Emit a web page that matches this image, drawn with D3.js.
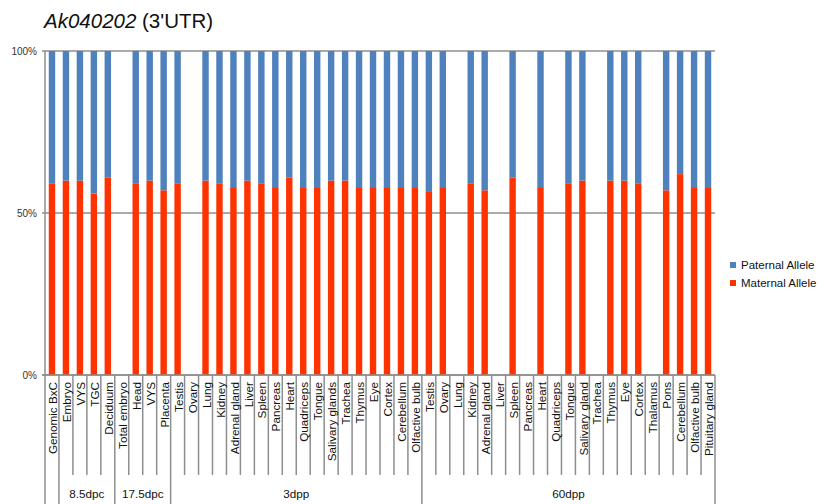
<!DOCTYPE html>
<html>
<head>
<meta charset="utf-8">
<script src="https://cdn.jsdelivr.net/npm/d3@7"></script>
<style>
  html, body { margin: 0; padding: 0; background: #fff; }
  svg { display: block; font-family: "Liberation Sans", Arial, Helvetica, sans-serif; }
</style>
</head>
<body>
<svg id="chart" width="832" height="504"></svg>
<script>
// Tissue categories along the x axis
const categories = [
  "Genomic BxC",
  "Embryo", "VYS", "TGC", "Deciduum",
  "Total embryo", "Head", "VYS", "Placenta",
  "Testis", "Ovary", "Lung", "Kidney", "Adrenal gland", "Liver", "Spleen", "Pancreas",
  "Heart", "Quadriceps", "Tongue", "Salivary glands", "Trachea", "Thymus", "Eye", "Cortex",
  "Cerebellum", "Olfactive bulb",
  "Testis", "Ovary", "Lung", "Kidney", "Adrenal gland", "Liver", "Spleen", "Pancreas",
  "Heart", "Quadriceps", "Tongue", "Salivary gland", "Trachea", "Thymus", "Eye", "Cortex",
  "Thalamus", "Pons", "Cerebellum", "Olfactive bulb", "Pituitary gland"
];

// Developmental stage groups: label and number of categories in each
const groupLabels = ["", "8.5dpc", "17.5dpc", "3dpp", "60dpp"];
const groupSizes  = [1, 4, 4, 18, 21];

// Allele percentages per category (null = not measured)
const maternal = [
  59,
  60, 60, 56, 61,
  null, 59, 60, 57,
  59, null, 60, 59, 58, 60, 59, 58, 61, 58, 58, 60, 60, 58, 58, 58, 58, 58,
  56.5, 58, null, 59, 57, null, 61, null, 58, null, 59, 60, null, 60, 60, 59, null, 57, 62, 58, 58
];
const paternal = [
  41,
  40, 40, 44, 39,
  null, 41, 40, 43,
  41, null, 40, 41, 42, 40, 41, 42, 39, 42, 42, 40, 40, 42, 42, 42, 42, 42,
  43.5, 42, null, 41, 43, null, 39, null, 42, null, 41, 40, null, 40, 40, 41, null, 43, 38, 42, 42
];

const yTicks = [0, 50, 100];
const seriesNames = ["Paternal Allele", "Maternal Allele"];
const colors = { "Paternal Allele": "#4F81BD", "Maternal Allele": "#FF3300" };

const svg = d3.select("#chart");
const plotLeft = 45, plotRight = 715, plotTop = 51, plotBottom = 375;
const axisGray = "#8E8E8E";

const x = d3.scaleBand().domain(d3.range(categories.length)).range([plotLeft, plotRight]).padding(0);
const y = d3.scaleLinear().domain([0, 100]).range([plotBottom, plotTop]);
const barW = x.bandwidth() * 0.46;

// Title
const title = svg.append("text").attr("x", 44).attr("y", 28)
  .attr("font-size", 20.5).attr("fill", "#111");
title.append("tspan").attr("font-style", "italic").text("Ak040202");
title.append("tspan").text(" (3'UTR)");

// Horizontal gridlines at each tick
svg.append("g").selectAll("line").data(yTicks).join("line")
  .attr("x1", plotLeft - 3).attr("x2", plotRight)
  .attr("y1", d => y(d)).attr("y2", d => y(d))
  .attr("stroke", axisGray).attr("stroke-width", 1.5);

// Y tick labels
svg.append("g").selectAll("text").data(yTicks).join("text")
  .attr("x", 37).attr("y", d => y(d)).attr("dy", "0.35em")
  .attr("text-anchor", "end").attr("font-size", 10).attr("fill", "#333")
  .text(d => d + "%");

// Stacked bars: maternal at the bottom, paternal on top
const rows = categories.map((c, i) => ({ i, m: maternal[i], p: paternal[i] })).filter(d => d.m != null);
const stack = d3.stack().keys(["m", "p"])(rows);
const barG = svg.append("g");
stack.forEach(layer => {
  const col = layer.key === "m" ? colors["Maternal Allele"] : colors["Paternal Allele"];
  barG.append("g").selectAll("rect").data(layer).join("rect")
    .attr("x", d => x(d.data.i) + (x.bandwidth() - barW) / 2)
    .attr("width", barW)
    .attr("y", d => y(d[1]))
    .attr("height", d => y(d[0]) - y(d[1]))
    .attr("fill", col);
});

// Bottom axis line redrawn over bars
svg.append("line").attr("x1", plotLeft - 3).attr("x2", plotRight)
  .attr("y1", y(0)).attr("y2", y(0)).attr("stroke", axisGray).attr("stroke-width", 1.5);

// Vertical axis
svg.append("line").attr("x1", plotLeft).attr("x2", plotLeft)
  .attr("y1", plotTop).attr("y2", 504).attr("stroke", axisGray).attr("stroke-width", 1.5);

// Category separators and group boundaries
const groupBounds = [];
let acc = 0;
groupSizes.forEach(s => { acc += s; groupBounds.push(acc); });
const sepG = svg.append("g");
d3.range(1, categories.length + 1).forEach(k => {
  const xb = k < categories.length ? x(k) : plotRight;
  const isGroup = groupBounds.includes(k);
  sepG.append("line")
    .attr("x1", xb).attr("x2", xb)
    .attr("y1", y(0)).attr("y2", isGroup ? 504 : 475)
    .attr("stroke", axisGray).attr("stroke-width", 1.5);
});

// Category labels, rotated
svg.append("g").selectAll("text").data(categories).join("text")
  .attr("transform", (d, i) => `translate(${x(i) + x.bandwidth() / 2 + 1},${y(0) + 7}) rotate(-90)`)
  .attr("dy", "0.35em").attr("text-anchor", "end")
  .attr("font-size", 11.7).attr("fill", "#111")
  .text(d => d);

// Group labels
let start = 0;
const groupG = svg.append("g");
groupLabels.forEach((g, gi) => {
  const s = start, e = start + groupSizes[gi];
  const cx = (x(s) + (e < categories.length ? x(e) : plotRight)) / 2;
  groupG.append("text").attr("x", cx).attr("y", 498)
    .attr("text-anchor", "middle").attr("font-size", 11.7).attr("fill", "#111")
    .text(g);
  start = e;
});

// Legend
const legend = svg.append("g").attr("transform", "translate(730,265)");
seriesNames.forEach((name, i) => {
  const row = legend.append("g").attr("transform", `translate(0,${i * 18})`);
  row.append("rect").attr("x", 0).attr("y", -3).attr("width", 6).attr("height", 6)
    .attr("fill", colors[name]);
  row.append("text").attr("x", 11).attr("y", 0).attr("dy", "0.35em")
    .attr("font-size", 11.5).attr("fill", "#111").text(name);
});
</script>
</body>
</html>
